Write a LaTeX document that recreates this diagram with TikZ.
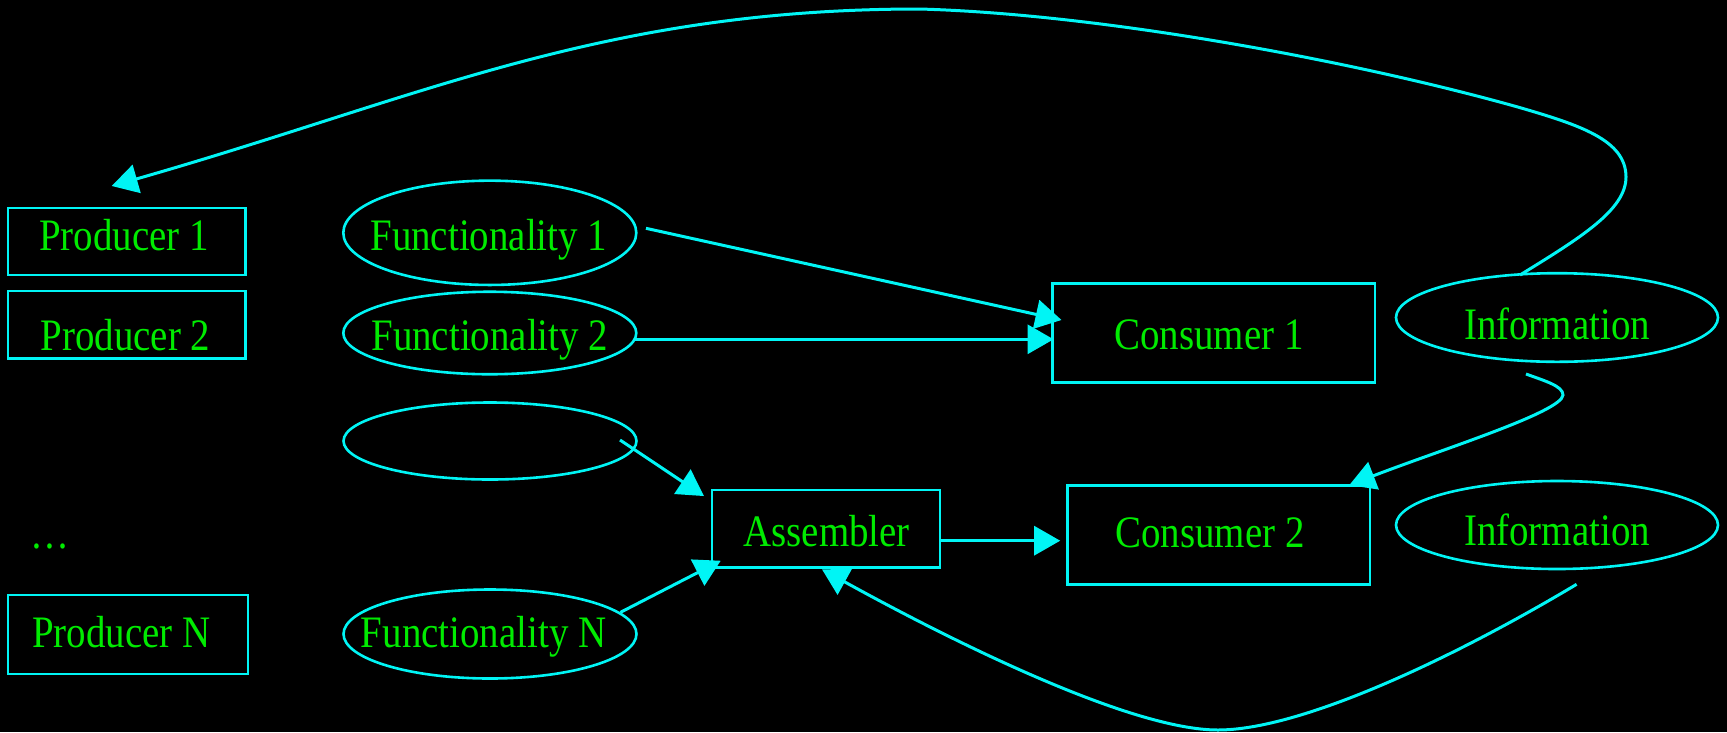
\documentclass[tikz,border=0pt]{standalone}
\usepackage{fontspec}
\setmainfont{Liberation Serif}[FakeStretch=0.865]
\usetikzlibrary{shapes.geometric,arrows.meta,calc}
\definecolor{wire}{RGB}{0,245,245}
\definecolor{ink}{RGB}{0,235,0}
% centred label of zero width; optional kern moves the text sideways by half its value
\newcommand{\nodetext}[2][0pt]{\makebox[0pt]{\kern#1\relax#2}}

\begin{document}
\begin{tikzpicture}[x=1pt,y=-1pt,
  every node/.style={inner sep=0pt, outer sep=0pt, text depth=0pt, text=ink,
    font=\fontsize{45}{54}\selectfont},
  boxnode/.style={rectangle, draw=wire, line width=2.6pt},
  ovalnode/.style={ellipse, draw=wire, line width=2.6pt},
  edge/.style={draw=wire, line width=3pt, -{Triangle[length=26pt,width=29pt]}}
]
\fill[black] (0,0) rectangle (1727,732);
\useasboundingbox (0,0) rectangle (1727,732);

% producers
\node[boxnode, minimum width=237.5pt, minimum height=67pt, text height=18.4pt]
  (p1) at (126.8,241.5) {\nodetext[-5.6pt]{Producer 1}};
\node[boxnode, minimum width=237.5pt, minimum height=67.3pt, text height=50.6pt]
  (p2) at (126.8,324.7) {\nodetext[-2.8pt]{Producer 2}};
\node[anchor=base] (dots) at (49.8,548) {…};
\node[boxnode, minimum width=240pt, minimum height=79pt, text height=25.6pt]
  (pn) at (128,634.5) {\nodetext[-13pt]{Producer N}};

% functionalities
\node[ovalnode, minimum width=293pt, minimum height=104.3pt, text height=35.8pt]
  (f1) at (489.8,232.8) {\nodetext[-2pt]{Functionality 1}};
\node[ovalnode, minimum width=293pt, minimum height=82.5pt, text height=34pt]
  (f2) at (489.8,333) {\nodetext{Functionality 2}};
\node[ovalnode, minimum width=293pt, minimum height=77pt]
  (f0) at (490,441) {};
\node[ovalnode, minimum width=293pt, minimum height=89pt, text height=26.6pt]
  (fn) at (490,634) {\nodetext[-12.6pt]{Functionality N}};

% assembler and consumers
\node[boxnode, minimum width=228pt, minimum height=77.7pt, text height=35.6pt]
  (a) at (825.8,528.9) {\nodetext[1.8pt]{Assembler}};
\node[boxnode, minimum width=322.6pt, minimum height=99.2pt, text height=32.6pt]
  (c1) at (1213.7,333) {\nodetext[-9.6pt]{Consumer 1}};
\node[boxnode, minimum width=302.6pt, minimum height=98.8pt, text height=24.6pt]
  (c2) at (1218.7,535) {\nodetext[-17.4pt]{Consumer 2}};

% information
\node[ovalnode, minimum width=322pt, minimum height=88.6pt, text height=43.6pt]
  (i1) at (1557,317.5) {\nodetext{Information}};
\node[ovalnode, minimum width=322pt, minimum height=88pt, text height=41.4pt]
  (i2) at (1557,525) {\nodetext{Information}};

% straight connectors
\draw[edge] ($(f1.east)+(9.7,-4.5)$) -- ($(c1.west)+(9.1,-13)$);
\draw[edge] ($(f2.east)+(-1.5,6.3)$) -- ($(c1.west)+(1.2,6.3)$);
\draw[edge] ($(f0.east)+(-16.5,-1)$) -- ($(a.north west)+(-7.8,6)$);
\draw[edge] ($(fn.east)+(-16,-21.7)$) -- ($(a.south west)+(8.9,-7)$);
\draw[edge] ($(a.east)+(0,11.8)$) -- ($(c2.west)+(-7.2,5.7)$);

% long loop over the top, back to the first producer
\coordinate (s6) at ($(i1.north)+(-37,1.8)$);
\coordinate (e6) at ($(p1.north)+(-15.1,-22)$);
\draw[edge] (s6) .. controls (1580,238) and (1626,210) .. (1626,177)
  .. controls (1626,140) and (1580,125) .. (1516.7,106.7)
  .. controls (1350,60) and (1100,14) .. (919.5,9)
  .. controls (600,9) and (420,98) .. (e6);

% information to the second consumer
\coordinate (s7) at ($(i1.south)+(-31,12.2)$);
\coordinate (e7) at ($(c2.north east)+(-20.7,-0.5)$);
\draw[edge] (s7) .. controls (1545,381) and (1563,386) .. (1563,395)
  .. controls (1562,412) and (1440,450) .. (e7);

% information back under the consumers to the assembler
\coordinate (s8) at ($(i2.south)+(19.6,15.3)$);
\coordinate (e8) at ($(a.south)+(-3.8,1.6)$);
\draw[edge] (s8) .. controls (1450,660) and (1300,730) .. (1217.9,730)
  .. controls (1130,730) and (950,640) .. (e8);
\end{tikzpicture}
\end{document}
